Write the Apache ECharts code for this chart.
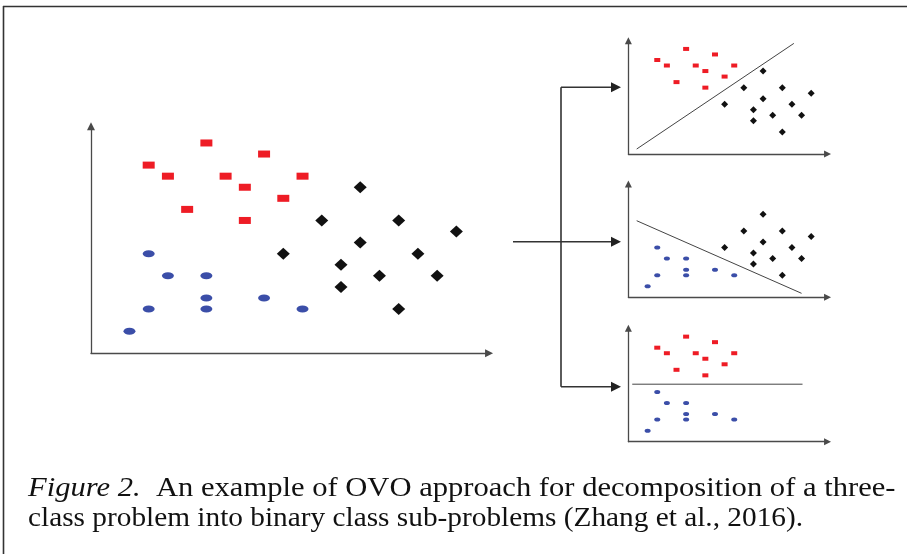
<!DOCTYPE html>
<html>
<head>
<meta charset="utf-8">
<script src="https://cdn.jsdelivr.net/npm/echarts@6/dist/echarts.min.js"></script>
<style>
html,body{margin:0;padding:0;background:#fff;}
#c{width:907px;height:554px;}
</style>
</head>
<body>
<div id="c"></div>
<script>
// ---- data (grid units) ----
const redPts = [[6,19],[9,18],[3,17],[4,16],[7,16],[11,16],[8,15],[10,14],[5,13],[8,12]];
const blackPts = [[14,15],[12,12],[16,12],[19,11],[14,10],[10,9],[17,9],[13,8],[15,7],[18,7],[13,6],[16,4]];
const bluePts = [[3,9],[4,7],[6,7],[6,5],[9,5],[3,4],[6,4],[11,4],[2,2]];
const sepLine1 = [[0.86,0.9],[17.2,20.0]];
const sepLine2 = [[0.86,13.85],[18.0,0.72]];
const sepLine3 = [[0.4,10.4],[18.1,10.4]];
const captionLine1 = '{i|Figure 2.}  An example of OVO approach for decomposition of a three-';
const captionLine2 = 'class problem into binary class sub-problems (Zhang et al., 2016).';

const XMAX = 20.7, YMAX = 20.5;
const RED = '#ee1c25', BLUE = '#3b4ea8', BLACK = '#111111', AX = '#4a4a4a';

// main grid: 19.23 px/unit x, 11.07 px/unit y ; small: half
const grids = [
  {left: 91, top: 353.3 - YMAX*11.07, width: XMAX*19.23, height: YMAX*11.07},
  {left: 628.4, top: 154 - YMAX*5.53, width: XMAX*9.62, height: YMAX*5.53},
  {left: 628.4, top: 297.3 - YMAX*5.53, width: XMAX*9.62, height: YMAX*5.53},
  {left: 628.4, top: 441.7 - YMAX*5.53, width: XMAX*9.62, height: YMAX*5.53}
];

function axis(i, max, big) {
  return {
    type: 'value', gridIndex: i, min: 0, max: max,
    axisLine: {show: true, symbol: ['none','triangle'], symbolSize: big ? [8,8] : [7,7],
      lineStyle: {color: AX, width: 1.3}},
    axisTick: {show: false}, axisLabel: {show: false}, splitLine: {show: false}
  };
}

const xAxes = [0,1,2,3].map(i => axis(i, XMAX, i === 0));
const yAxes = [0,1,2,3].map(i => axis(i, YMAX, i === 0));

function sc(i, data, sym, size, color) {
  return {type: 'scatter', xAxisIndex: i, yAxisIndex: i, data: data, symbol: sym,
    symbolSize: size, itemStyle: {color: color, opacity: 1}, silent: true};
}
function ln(i, data) {
  return {type: 'line', xAxisIndex: i, yAxisIndex: i, data: data, symbol: 'none',
    lineStyle: {color: '#444', width: 1}, silent: true};
}

const series = [
  sc(0, redPts, 'rect', [12,7], RED),
  sc(0, blackPts, 'diamond', [13,12], BLACK),
  sc(0, bluePts, 'circle', [12,7], BLUE),
  sc(1, redPts, 'rect', [6,4], RED),
  sc(1, blackPts, 'diamond', [7,7], BLACK),
  ln(1, sepLine1),
  sc(2, bluePts, 'circle', [6,4], BLUE),
  sc(2, blackPts, 'diamond', [7,7], BLACK),
  ln(2, sepLine2),
  sc(3, redPts, 'rect', [6,4], RED),
  sc(3, bluePts, 'circle', [6,4], BLUE),
  ln(3, sepLine3)
];

const LC = '#333';
function seg(x1,y1,x2,y2,w){return {type:'line',shape:{x1,y1,x2,y2},style:{stroke:LC,lineWidth:w||1.6},silent:true};}
function head(x,y){return {type:'polygon',shape:{points:[[x,y],[x-10,y-5],[x-10,y+5]]},style:{fill:'#222'},silent:true};}

const FONT = 'Liberation Serif';
const graphic = [
  seg(3,6.5,907,6.5,1.6),
  seg(3.5,6,3.5,554,1.6),
  seg(513,241.7,612,241.7),
  seg(561,87.3,561,386.7),
  seg(561,87.3,612,87.3),
  seg(561,386.7,612,386.7),
  head(621,87.3), head(621,241.7), head(621,386.7),
  {type:'text', x: 28, y: 475, scaleX: 1.092, silent:true,
    style:{text: captionLine1, fontFamily: FONT, fontSize: 28, fill:'#111', verticalAlign:'top',
      rich:{i:{fontStyle:'italic', fontFamily: FONT, fontSize:28}}}},
  {type:'text', x: 28, y: 505, scaleX: 1.047, silent:true,
    style:{text: captionLine2, fontFamily: FONT, fontSize: 28, fill:'#111', verticalAlign:'top'}}
];

const chart = echarts.init(document.getElementById('c'));
chart.setOption({
  animation: false,
  backgroundColor: '#fff',
  grid: grids,
  xAxis: xAxes,
  yAxis: yAxes,
  series: series,
  graphic: graphic
});
</script>
</body>
</html>
